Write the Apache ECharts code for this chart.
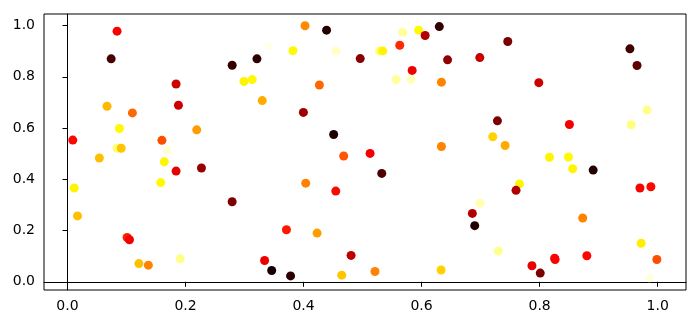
<!DOCTYPE html>
<html>
<head>
<meta charset="utf-8">
<script src="https://cdn.jsdelivr.net/npm/echarts@6/dist/echarts.min.js"></script>
<style>
  html, body { margin: 0; padding: 0; background: #fff; }
  #chart { width: 700px; height: 327px; }
</style>
</head>
<body>
<div id="chart"></div>
<script>
// scatter points: x, y and colour value (0..1 on the "hot" colormap)
var xs = [0.084, 0.074, 0.279, 0.321, 0.299, 0.313, 0.184, 0.188, 0.067, 0.110,
  0.330, 0.088, 0.219, 0.009, 0.160, 0.084, 0.091, 0.169, 0.054, 0.164,
  0.184, 0.227, 0.158, 0.0115, 0.279, 0.017, 0.101, 0.105, 0.191, 0.121,
  0.137, 0.4025, 0.439, 0.630, 0.568, 0.595, 0.606, 0.340, 0.382, 0.455,
  0.529, 0.534, 0.563, 0.496, 0.644, 0.584, 0.557, 0.582, 0.6336, 0.4268,
  0.3997, 0.451, 0.468, 0.5127, 0.6336, 0.5325, 0.4037, 0.4546, 0.371, 0.4229,
  0.4805, 0.334, 0.346, 0.378, 0.4647, 0.521, 0.633, 0.746, 0.953, 0.965,
  0.6986, 0.7986, 0.982, 0.955, 0.8505, 0.7285, 0.7206, 0.7415, 0.8166, 0.8489,
  0.856, 0.8907, 0.7658, 0.760, 0.970, 0.9885, 0.699, 0.686, 0.690, 0.873,
  0.730, 0.972, 0.8254, 0.8262, 0.880, 0.9986, 0.787, 0.801, 0.986];
var ys = [0.978, 0.870, 0.845, 0.870, 0.782, 0.789, 0.772, 0.689, 0.685, 0.659,
  0.707, 0.598, 0.593, 0.553, 0.552, 0.521, 0.521, 0.513, 0.483, 0.468,
  0.432, 0.444, 0.387, 0.366, 0.3125, 0.257, 0.173, 0.164, 0.090, 0.071,
  0.065, 0.999, 0.982, 0.996, 0.974, 0.982, 0.961, 0.919, 0.902, 0.900,
  0.901, 0.901, 0.923, 0.871, 0.866, 0.825, 0.789, 0.789, 0.779, 0.768,
  0.661, 0.575, 0.491, 0.501, 0.528, 0.423, 0.385, 0.354, 0.203, 0.190,
  0.103, 0.083, 0.044, 0.023, 0.026, 0.040, 0.046, 0.9375, 0.909, 0.844,
  0.875, 0.777, 0.670, 0.613, 0.614, 0.628, 0.566, 0.532, 0.486, 0.487,
  0.441, 0.436, 0.382, 0.357, 0.366, 0.371, 0.307, 0.267, 0.219, 0.249,
  0.120, 0.150, 0.092, 0.087, 0.1016, 0.087, 0.0625, 0.034, 0.0156];
var cs = [0.36, 0.09, 0.06, 0.05, 0.73, 0.74, 0.29, 0.29, 0.64, 0.52,
  0.62, 0.74, 0.60, 0.37, 0.48, 0.86, 0.66, 0.96, 0.65, 0.73,
  0.33, 0.21, 0.74, 0.73, 0.17, 0.65, 0.41, 0.35, 0.88, 0.65,
  0.56, 0.57, 0.04, 0.06, 0.90, 0.74, 0.25, 0.98, 0.74, 0.94,
  0.86, 0.73, 0.43, 0.19, 0.20, 0.34, 0.90, 0.93, 0.56, 0.52,
  0.22, 0.03, 0.49, 0.35, 0.56, 0.10, 0.56, 0.37, 0.40, 0.60,
  0.27, 0.34, 0.02, 0.05, 0.66, 0.56, 0.68, 0.17, 0.08, 0.13,
  0.28, 0.29, 0.88, 0.87, 0.35, 0.17, 0.68, 0.62, 0.73, 0.74,
  0.73, 0.04, 0.73, 0.25, 0.36, 0.37, 0.92, 0.25, 0.04, 0.56,
  0.89, 0.72, 0.37, 0.36, 0.37, 0.48, 0.33, 0.17, 0.97];
var tickValues = [0, 0.2, 0.4, 0.6, 0.8, 1.0];

// matplotlib "hot" colormap sampled into stops
function hot(t) {
  var r = Math.min(1, 0.0416 + t / 0.365 * 0.9584);
  var g = Math.max(0, Math.min(1, (t - 0.365) / 0.381));
  var b = Math.max(0, Math.min(1, (t - 0.746) / 0.254));
  return 'rgb(' + Math.round(r * 255) + ',' + Math.round(g * 255) + ',' + Math.round(b * 255) + ')';
}
var hotStops = [];
for (var i = 0; i <= 40; i++) hotStops.push(hot(i / 40));

var points = xs.map(function (x, i) { return [x, ys[i], cs[i]]; });

var chart = echarts.init(document.getElementById('chart'));
var axisFont = { fontFamily: 'DejaVu Sans', fontSize: 14, color: '#000' };
chart.setOption({
  animation: false,
  grid: {
    left: 44, right: 14, top: 14, bottom: 37,
    show: true, borderColor: '#000', borderWidth: 1
  },
  xAxis: {
    type: 'value',
    min: -0.0398, max: 1.048,
    splitLine: { show: false },
    axisLine: { show: true, lineStyle: { color: '#000', width: 1 } },
    axisTick: { show: true, length: 5, lineStyle: { color: '#000' }, customValues: tickValues },
    axisLabel: Object.assign({
      margin: 9,
      customValues: tickValues,
      formatter: function (v) { return v.toFixed(1); }
    }, axisFont)
  },
  yAxis: {
    type: 'value',
    min: -0.032, max: 1.045,
    splitLine: { show: false },
    axisLine: { show: true, lineStyle: { color: '#000', width: 1 } },
    axisTick: { show: true, length: 5, lineStyle: { color: '#000' }, customValues: tickValues },
    axisLabel: Object.assign({
      margin: 9,
      customValues: tickValues,
      formatter: function (v) { return v.toFixed(1); }
    }, axisFont)
  },
  visualMap: {
    show: false,
    type: 'continuous',
    dimension: 2,
    min: 0, max: 1,
    inRange: { color: hotStops }
  },
  series: [{
    type: 'scatter',
    symbolSize: 9,
    data: points,
    itemStyle: { opacity: 1 }
  }]
});
</script>
</body>
</html>
